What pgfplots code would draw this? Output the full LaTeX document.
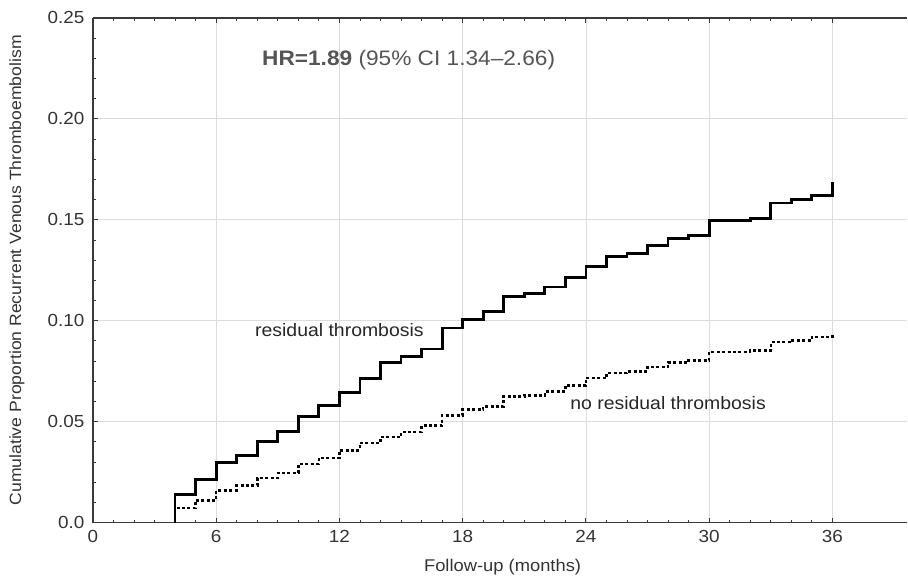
\documentclass[border=0pt]{standalone}
\usepackage{pgfplots}
\pgfplotsset{compat=1.18}
\usepackage{fontspec}
\setmainfont{Liberation Sans}[FakeStretch=1.08]
\definecolor{tickgray}{HTML}{333333}
\definecolor{hrgray}{HTML}{555555}
\definecolor{gridgray}{HTML}{DCDCDC}
\definecolor{spine}{HTML}{3A3A3A}
\begin{document}
\begin{tikzpicture}
\begin{axis}[
  scale only axis,
  width=815pt, height=505pt,
  xmin=0, xmax=39.65, ymin=0, ymax=0.25,
  axis x line*=box, axis y line*=left,
  x axis line style={-}, y axis line style={-},
  axis line style={spine, line width=1.3pt},
  xtick={0,6,12,18,24,30,36},
  minor x tick num=5,
  ytick={0,0.05,0.10,0.15,0.20,0.25},
  yticklabels={0.0,0.05,0.10,0.15,0.20,0.25},
  minor y tick num=4,
  tick align=inside,
  major tick length=5pt, minor tick length=3pt,
  every tick/.style={spine, line width=0.9pt},
  grid=major,
  major grid style={gridgray, line width=0.8pt},
  /pgf/number format/assume math mode=true,
  tick label style={font=\fontsize{17.5}{20}\selectfont, text=tickgray},
  xticklabel style={yshift=-4pt},
  yticklabel style={xshift=-5pt},
  xlabel={Follow-up (months)},
  ylabel={Cumulative Proportion Recurrent Venous Thromboembolism},
  xlabel style={at={(axis description cs:0.503,-0.089)}, anchor=center, font=\fontsize{17}{20}\selectfont, text=tickgray},
  ylabel style={at={(axis description cs:-0.0933,0.5)}, anchor=center, rotate=0, font=\fontsize{16.3}{19}\selectfont, text=tickgray},
  clip=false,
]
\path (axis description cs:-0.1141,-0.1109) rectangle (axis description cs:1,1.0356);
\addplot[const plot, black, line width=2.8pt] coordinates {
(4,0) (4,0.0139) (5,0.0213) (6,0.0296) (7,0.0333) (8,0.0400) (9,0.0452)
(10,0.0526) (11,0.0579) (12,0.0645) (13,0.0712) (14,0.0794) (15,0.0823)
(16,0.0860) (17,0.0964) (18,0.1008) (19,0.1046) (20,0.1120) (21,0.1134)
(22,0.1167) (23,0.1215) (24,0.1269) (25,0.1320) (26,0.1332) (27,0.1371)
(28,0.1409) (29,0.1421) (30,0.1497) (32,0.1505) (33,0.1583) (34,0.1599)
(35,0.1619) (36,0.1619) (36,0.1687)};
\addplot[const plot, black, line width=2.5pt, dash pattern=on 3pt off 2.4pt] coordinates {
(4,0) (4,0.0073) (5,0.0110) (6,0.0160) (7,0.0183) (8,0.0221) (9,0.0246)
(10,0.0290) (11,0.0320) (12,0.0358) (13,0.0394) (14,0.0424) (15,0.0450)
(16,0.0480) (17,0.0530) (18,0.0560) (19,0.0576) (20,0.0625) (21,0.0630)
(22,0.0650) (23,0.0678) (24,0.0716) (25,0.0741) (26,0.0749) (27,0.0771)
(28,0.0794) (29,0.0804) (30,0.0845) (32,0.0853) (33,0.0894) (34,0.0903)
(35,0.0919) (36,0.0919) (36,0.0939)};
\node[font=\fontsize{18}{20}\selectfont, text=black!85] at (axis cs:12,0.0955) {residual thrombosis};
\node[font=\fontsize{18}{20}\selectfont, text=black!85] at (axis cs:28,0.0593) {no residual thrombosis};
\node[font=\fontsize{21}{24}\selectfont, text=hrgray] at (axis cs:15.37,0.2292) {\textbf{HR=1.89} (95\% CI 1.34–2.66)};
\end{axis}
\end{tikzpicture}
\end{document}
